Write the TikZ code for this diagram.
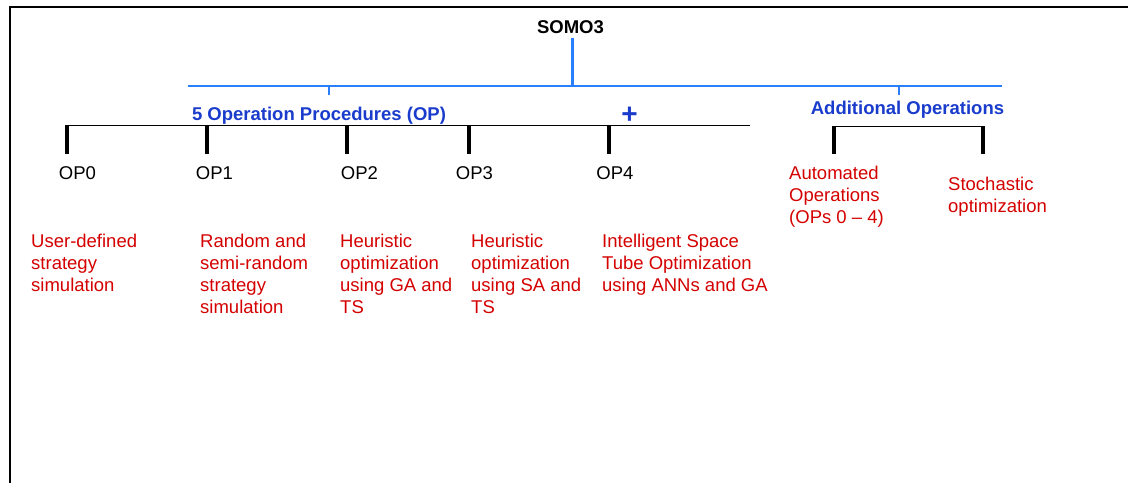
\documentclass[tikz,border=0pt]{standalone}
\usepackage{fontspec}
\setmainfont{Liberation Sans}
\usepackage{xcolor}
\definecolor{xblue}{HTML}{1A3CCC}
\definecolor{xsky}{HTML}{2A7FFF}
\definecolor{xred}{HTML}{D40000}
\usetikzlibrary{positioning}
\tikzset{
  %% Styles %%
  heading/.style = {font=\fontsize{18.5}{22}\selectfont\bfseries, inner sep=0pt, anchor=base, text=#1},
  heading/.default = black,
  oplabel/.style = {font=\fontsize{18.5}{22}\selectfont, inner sep=0pt, anchor=base},
  desc/.style = {font=\fontsize{18.5}{22}\selectfont, text=xred, align=left, inner sep=0pt, anchor=north west},
  stem/.style = {line width=4pt, black},
  bar/.style = {line width=1pt, black},
  skybar/.style = {line width=#1, xsky},
}

\begin{document}
\begin{tikzpicture}[x=1pt, y=-1pt]
  \useasboundingbox (0,0) rectangle (1128,483);
  % frame
  \draw[line width=1.5pt] (10,483) -- (10,7) -- (1128,7);

  % headings
  \node[heading] (somo) at (570.5,33) {SOMO3};
  \node[heading=xblue] (ops) at (319,120) {5 Operation Procedures (OP)};
  \node[heading=xblue, font=\fontsize{28}{30}\selectfont\bfseries, anchor=center] (plus) at (629.5,115) {+};
  \node[heading=xblue] (addl) at (907.5,114) {Additional Operations};

  % blue branch
  \coordinate (skyL) at (188,86);
  \coordinate (skyR) at (1002,86);
  \coordinate (hub) at (572,86);
  \coordinate (opsTop) at (329,86);
  \coordinate (addlTop) at (899,86);
  \draw[skybar=1.5pt] (skyL) -- (skyR);
  \draw[skybar=3pt] (hub |- somo.south) ++(0,5) -- (hub);
  \draw[skybar=2.5pt] (opsTop) -- ++(0,9);
  \draw[skybar=2.5pt] (addlTop) -- ++(0,9);

  % operation procedures
  \coordinate (barL) at (65,125);
  \coordinate (barR) at (750,125);
  \draw[bar] (barL) -- (barR);
  \foreach \x [count=\k from 0] in {67,207,347,469,609}
    \draw[stem] (\x,125) coordinate (t\k) -- ++(0,29);

  \node[oplabel] (op0) at (77.5,179) {OP0};
  \node[oplabel] (op1) at (214.5,179) {OP1};
  \node[oplabel] (op2) at (359.5,179) {OP2};
  \node[oplabel] (op3) at (474.5,179) {OP3};
  \node[oplabel] (op4) at (615,179) {OP4};

  \node[desc] (d0) at (31,233.5) {User-defined\\strategy\\simulation};
  \node[desc] (d1) at (200,233.5) {Random and\\semi-random\\strategy\\simulation};
  \node[desc] (d2) at (340,233.5) {Heuristic\\optimization\\using GA and\\TS};
  \node[desc] (d3) at (471,233.5) {Heuristic\\optimization\\using SA and\\TS};
  \node[desc] (d4) at (602,233.5) {Intelligent Space\\Tube Optimization\\using ANNs and GA};

  % additional operations
  \coordinate (auto) at (834,126);
  \coordinate (stoch) at (983,126);
  \draw[bar] ([xshift=-2pt]auto) -- ([xshift=2pt]stoch);
  \draw[stem] (auto) -- ++(0,28);
  \draw[stem] (stoch) -- ++(0,28);

  \node[desc] (a1) at (789,165.5) {Automated\\Operations\\(OPs 0 – 4)};
  \node[desc] (a2) at (948,176.5) {Stochastic\\optimization};
\end{tikzpicture}
\end{document}
